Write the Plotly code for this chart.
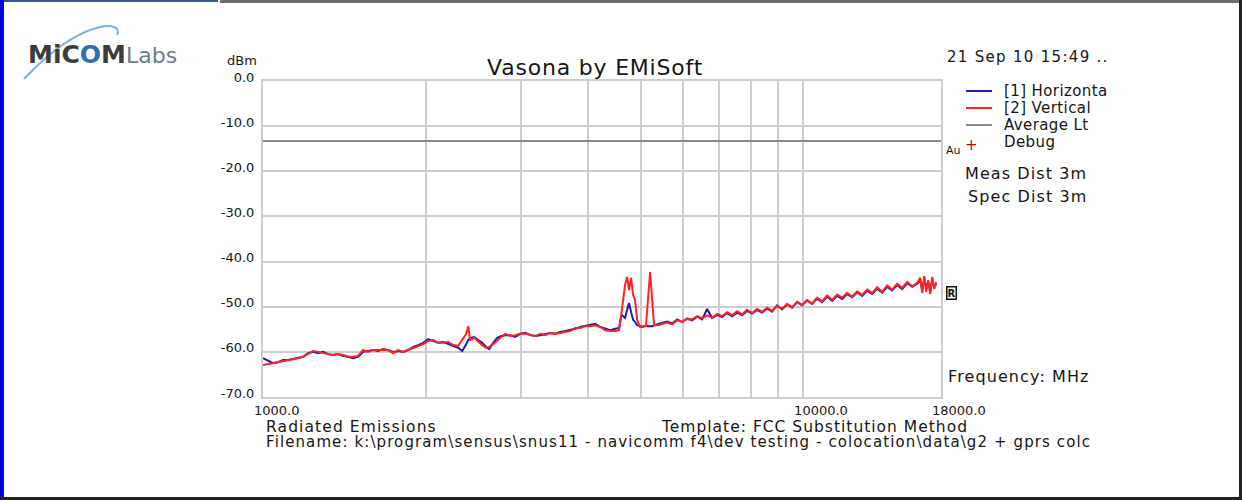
import math
import plotly.graph_objects as go

# ---------------- data ----------------
freq_mhz = [1000, 1022, 1044, 1066, 1089, 1113, 1137, 1161, 1186, 1212,
            1238, 1265, 1292, 1320, 1348, 1377, 1407, 1437, 1468, 1500,
            1532, 1565, 1599, 1634, 1669, 1705, 1742, 1779, 1818, 1857,
            1897, 1938, 1980, 2022, 2066, 2110, 2156, 2202, 2250, 2298,
            2338, 2378, 2398, 2419, 2460, 2503, 2546, 2590, 2623, 2668, 2714, 2761, 2809,
            2869, 2931, 2994, 3059, 3125, 3192, 3261, 3331, 3403, 3476,
            3551, 3628, 3706, 3786, 3867, 3951, 4036, 4123, 4212, 4302,
            4395, 4490,
            4563, 4609, 4681, 4722, 4762, 4803, 4844, 4885, 4927, 4991,
            5052, 5117, 5164, 5209, 5254, 5298, 5389, 5481,
            5600, 5721, 5845, 5971, 6100, 6231, 6365, 6501, 6642, 6785,
            6930, 7079, 7232, 7388, 7547, 7709, 7875, 8045, 8219, 8396,
            8577, 8761, 8950, 9143, 9341, 9541, 9748, 9957, 10170, 10391,
            10615, 10844, 11077, 11317, 11561, 11810, 12064, 12324, 12589, 12861,
            13137, 13421, 13709, 14006, 14309, 14617, 14933, 15254, 15585, 15923,
            16263,
            16474, 16615, 16757, 16900, 17045, 17191, 17338, 17487, 17633]

horizontal_dbm = [-61.4, -62.0, -62.5, -62.3, -61.8, -61.8, -61.6, -61.4, -61.1, -60.3,
                  -60.0, -60.3, -60.0, -60.5, -60.7, -60.5, -60.9, -61.1, -61.4, -61.1,
                  -60.0, -59.8, -59.6, -59.8, -59.4, -59.6, -60.0, -59.8, -60.0, -59.6,
                  -58.9, -58.5, -58.0, -57.2, -57.6, -58.0, -57.8, -58.3, -58.7, -59.1,
                  -59.8, -58.3, -57.4, -56.9, -56.7, -57.4, -58.0, -58.9, -59.4, -58.0, -56.9, -56.5, -56.3,
                  -56.3, -56.7, -56.0, -55.8, -56.3, -56.5, -56.3, -56.0, -55.8, -56.0,
                  -55.6, -55.4, -55.2, -54.9, -54.5, -54.3, -54.1, -53.8, -54.5, -54.9,
                  -55.2, -54.9,
                  -54.7, -51.8, -52.5, -50.7, -49.2, -51.2, -52.9, -53.4, -54.1, -54.3,
                  -54.5, -54.1, -54.3, -54.3, -54.3, -54.1, -53.8, -53.6,
                  -53.3, -53.7, -52.8, -53.4, -52.6, -53.0, -52.2, -52.8, -50.5, -52.5,
                  -51.8, -52.3, -51.4, -52.1, -51.3, -51.9, -50.9, -51.5, -50.7, -51.3,
                  -50.4, -51.1, -49.7, -50.6, -49.5, -50.2, -48.9, -49.7, -48.6, -49.4,
                  -48.2, -49.0, -47.8, -48.7, -47.6, -48.3, -47.2, -47.9, -46.8, -47.6,
                  -46.5, -47.2, -46.0, -46.9, -45.6, -46.4, -45.2, -46.1, -44.8, -45.6,
                  -44.9,
                  -44.1, -46.3, -43.9, -45.6, -44.5, -46.5, -44.1, -45.6, -45.0]

vertical_dbm = [-62.9, -62.7, -62.5, -62.3, -62.0, -61.8, -61.6, -61.4, -61.1, -60.5,
                -59.8, -60.0, -60.3, -60.5, -60.7, -60.5, -60.7, -61.1, -61.1, -60.9,
                -59.6, -60.0, -59.6, -59.6, -59.6, -59.6, -60.3, -59.6, -60.0, -59.6,
                -59.1, -58.7, -58.3, -57.6, -57.4, -58.0, -58.0, -57.8, -58.5, -58.7,
                -57.4, -56.0, -54.3, -57.4, -56.9, -57.8, -58.5, -59.1, -58.9, -58.3, -57.4, -56.7, -56.0,
                -56.5, -56.3, -56.0, -56.0, -56.3, -56.5, -56.0, -56.3, -55.8, -56.0,
                -55.8, -55.6, -55.4, -54.7, -54.7, -54.3, -54.3, -54.1, -54.5, -55.2,
                -55.4, -55.4,
                -55.2, -51.4, -45.2, -43.4, -46.3, -43.6, -47.4, -48.5, -52.9, -54.5,
                -54.3, -54.3, -48.5, -42.3, -48.5, -54.1, -54.1, -53.8,
                -53.5, -53.9, -53.0, -53.3, -52.7, -52.8, -52.1, -52.6, -51.9, -52.4,
                -51.6, -52.1, -51.2, -51.9, -51.0, -51.7, -50.7, -51.4, -50.5, -51.1,
                -50.2, -50.9, -49.9, -50.4, -49.4, -50.1, -49.0, -49.6, -48.5, -49.3,
                -48.0, -48.8, -47.5, -48.5, -47.3, -48.0, -46.9, -47.8, -46.6, -47.4,
                -46.2, -47.0, -45.7, -46.7, -45.3, -46.2, -44.9, -45.8, -44.5, -45.5,
                -44.7,
                -43.6, -47.0, -43.2, -46.7, -44.1, -47.2, -43.4, -46.1, -44.5]

average_limit_dbm = -13.3
limit_freqs = [1000, 18000]

x_tick_vals = [1000, 2000, 3000, 4000, 5000, 6000, 7000, 8000, 9000, 10000, 18000]
x_tick_text = ["1000.0", "", "", "", "", "", "", "", "", "10000.0", "18000.0"]
y_tick_vals = [-70, -60, -50, -40, -30, -20, -10, 0]
y_tick_text = ["-70.0", "-60.0", "-50.0", "-40.0", "-30.0", "-20.0", "-10.0", "0.0"]

legend_names = ["[1] Horizonta", "[2] Vertical", "Average Lt", "Debug"]

# ---------------- layout geometry (pixels) ----------------
W, H = 1242, 500
L, R, T, B = 263, 941, 81, 397


def PX(x):
    return (x - L) / (R - L)


def PY(y):
    return (B - y) / (B - T)


BLUE = "#1c1ca8"
RED = "#ff2424"
GRAY = "#8a8a8a"
GRID = "#cdcdcd"
TXT = "#161616"
FONT = "DejaVu Sans"

fig = go.Figure()
fig.add_trace(go.Scatter(x=limit_freqs, y=[average_limit_dbm] * len(limit_freqs), mode="lines",
                         line=dict(color=GRAY, width=2), name=legend_names[2], showlegend=False))
fig.add_trace(go.Scatter(x=freq_mhz, y=horizontal_dbm, mode="lines",
                         line=dict(color=BLUE, width=2), name=legend_names[0], showlegend=False))
fig.add_trace(go.Scatter(x=freq_mhz, y=vertical_dbm, mode="lines",
                         line=dict(color=RED, width=2), name=legend_names[1], showlegend=False))

annotations = []


def txt(x, y, s, size, anchor="left", color=TXT, spacing=0.0):
    if spacing:
        s = f"<span style='letter-spacing:{spacing}px'>{s}</span>"
    annotations.append(dict(x=PX(x), y=PY(y), xref="paper", yref="paper", text=s, showarrow=False,
                            xanchor=anchor, yanchor="middle",
                            font=dict(size=size, color=color, family=FONT)))


txt(595, 67, "Vasona by EMiSoft", 22, "center", spacing=0.8)
txt(945, 57, "21 Sep 10 15:49 ..", 15, spacing=1.3)
txt(242, 60, "dBm", 13, "center")
for i, nm in enumerate(legend_names):
    txt(1002, 91 + i * 17, nm, 15, spacing=0.4)
txt(963, 173, "Meas Dist 3m", 16, spacing=1.1)
txt(966, 196, "Spec Dist 3m", 16, spacing=1.1)
txt(946, 376, "Frequency: MHz", 16, spacing=1.1)
txt(264, 427, "Radiated Emissions", 15.5, spacing=1.1)
txt(659, 427, "Template: FCC Substitution Method", 15.5, spacing=1.0)
txt(264, 442, "Filename: k:\\program\\sensus\\snus11 - navicomm f4\\dev testing - colocation\\data\\g2 + gprs colc",
    15, spacing=1.1)
txt(944, 150, "Au", 11)
txt(971, 145, "+", 15, "center", color="#c00000")
annotations.append(dict(x=PX(951), y=PY(293), xref="paper", yref="paper", text="<b>R</b>", showarrow=False,
                        xanchor="center", yanchor="middle", bordercolor="#111", borderwidth=1.5, borderpad=0,
                        font=dict(size=10, color="#111", family=FONT)))
# logo
annotations.append(dict(x=PX(26), y=PY(54), xref="paper", yref="paper", showarrow=False,
                        xanchor="left", yanchor="middle",
                        text=("<b><span style='color:#3c3c3c'>MiC</span><span style='color:#2d6db5'>O</span>"
                              "<span style='color:#3c3c3c'>M</span></b>"
                              "<span style='color:#6e7c8c;font-size:22px'>Labs</span>"),
                        font=dict(size=25, family=FONT)))

shapes = []
# legend line samples
for i, col in enumerate([BLUE, RED, GRAY]):
    shapes.append(dict(type="line", xref="paper", yref="paper", x0=PX(966), x1=PX(992),
                       y0=PY(91 + i * 17), y1=PY(91 + i * 17), line=dict(color=col, width=2)))


def pt(x, y):
    return f"{PX(x):.5f},{PY(y):.5f}"


# logo swoosh
shapes.append(dict(type="path", xref="paper", yref="paper", layer="below",
                   path=f"M {pt(24, 79)} C {pt(40, 62)} {pt(70, 34)} {pt(100, 27)} C {pt(112, 24)} {pt(121, 28)} {pt(117, 35)}",
                   line=dict(color="#7fb0dc", width=2)))
# frame borders
shapes.append(dict(type="rect", xref="paper", yref="paper", x0=PX(0), x1=PX(218), y0=PY(0), y1=PY(2),
                   fillcolor="#3b5688", line=dict(width=0)))
shapes.append(dict(type="rect", xref="paper", yref="paper", x0=PX(220), x1=PX(1242), y0=PY(0), y1=PY(3),
                   fillcolor="#6e6e6e", line=dict(width=0)))
shapes.append(dict(type="rect", xref="paper", yref="paper", x0=PX(0), x1=PX(4), y0=PY(0), y1=PY(500),
                   fillcolor="#0000d8", line=dict(width=0)))
shapes.append(dict(type="rect", xref="paper", yref="paper", x0=PX(1239), x1=PX(1242), y0=PY(0), y1=PY(500),
                   fillcolor="#222222", line=dict(width=0)))
shapes.append(dict(type="rect", xref="paper", yref="paper", x0=PX(0), x1=PX(1242), y0=PY(497), y1=PY(500),
                   fillcolor="#222222", line=dict(width=0)))

fig.update_layout(
    width=W, height=H,
    margin=dict(l=L, r=W - R, t=T, b=H - B, pad=0),
    paper_bgcolor="white", plot_bgcolor="white",
    showlegend=False,
    annotations=annotations, shapes=shapes,
    font=dict(family=FONT, color=TXT),
)
fig.update_xaxes(type="log", range=[3, math.log10(18000)], tickvals=x_tick_vals, ticktext=x_tick_text,
                 showgrid=True, gridcolor=GRID, gridwidth=2, showline=True, linecolor=GRID, linewidth=2,
                 mirror=True, zeroline=False, ticks="", ticklabelposition="outside right", ticklabelshift=-10,
                 tickfont=dict(size=13, color=TXT, family=FONT))
fig.update_yaxes(range=[-70, 0], tickvals=y_tick_vals, ticktext=y_tick_text,
                 showgrid=True, gridcolor=GRID, gridwidth=2, showline=True, linecolor=GRID, linewidth=2,
                 mirror=True, zeroline=False, ticks="", ticklabelstandoff=4, ticklabelshift=-4,
                 tickfont=dict(size=13, color=TXT, family=FONT))

fig.write_html("out.html", config={"displayModeBar": False},
               post_script="document.body.style.margin='0';document.body.style.overflow='hidden';")
